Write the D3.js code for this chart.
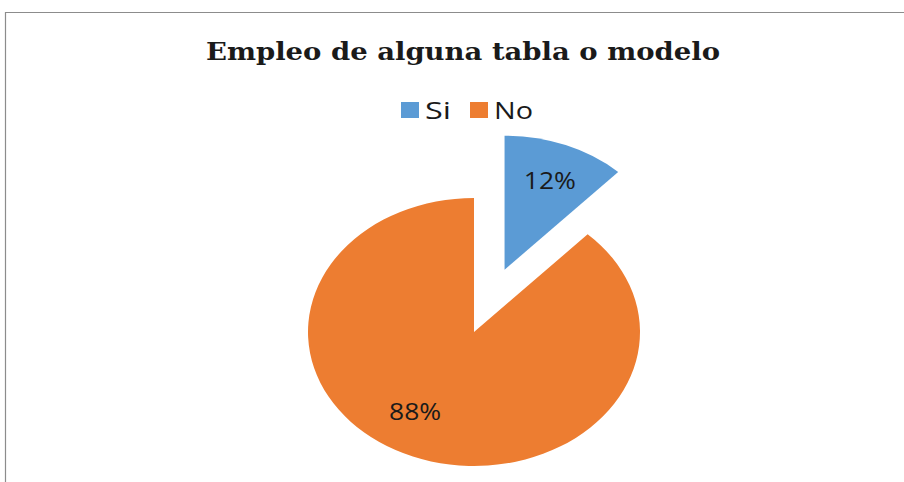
<!DOCTYPE html>
<html>
<head>
<meta charset="utf-8">
<script src="https://cdn.jsdelivr.net/npm/d3@7"></script>
<style>
  body { margin: 0; background: #fff; }
</style>
</head>
<body>
<div class="chart"></div>
<script>
var width = 904
var height = 482

var title = 'Empleo de alguna tabla o modelo'
var categories = ['Si', 'No']
var values = [12, 88]
var colors = ['#5B9BD5', '#ED7D31']

// pie is drawn in a squashed frame, like the original
var ry = 134
var rx = 166
var cx = 474
var cy = 332
var explode = 0.5

var svg = d3.select('.chart').append('svg')
    .attr('width', width)
    .attr('height', height)

svg.append('rect')
    .attr('width', width)
    .attr('height', height)
    .attr('fill', '#fff')

// frame
svg.append('path')
    .attr('d', 'M5.5,' + height + ' V12.5 H' + width)
    .attr('fill', 'none')
    .attr('stroke', '#8c8c8c')
    .attr('stroke-width', 1.2)

svg.append('text')
    .attr('x', 463)
    .attr('y', 60)
    .attr('text-anchor', 'middle')
    .attr('textLength', 514)
    .attr('lengthAdjust', 'spacingAndGlyphs')
    .style('font-family', 'DejaVu Serif, serif')
    .style('font-weight', 'bold')
    .style('font-size', '24px')
    .attr('fill', '#1a1a1a')
    .text(title)

// legend
var legend = svg.append('g')
var legendX = [401, 470]
categories.forEach(function (c, i) {
    legend.append('rect')
        .attr('x', legendX[i])
        .attr('y', 102)
        .attr('width', 18)
        .attr('height', 16)
        .attr('fill', colors[i])
    legend.append('text')
        .attr('x', legendX[i] + 24)
        .attr('y', 119)
        .attr('textLength', c == 'Si' ? 26 : 39)
        .attr('lengthAdjust', 'spacingAndGlyphs')
        .style('font-family', 'Open Sans, Liberation Sans, sans-serif')
        .style('font-size', '23px')
        .attr('fill', '#1a1a1a')
        .text(c)
})

var pie = d3.pie().sort(null).value(d => d)
var arcs = pie(values)
var arc = d3.arc().innerRadius(0).outerRadius(ry)
var labelArc = d3.arc().innerRadius(ry * 0.7).outerRadius(ry * 0.7)

var g = svg.append('g')
    .attr('transform', 'translate(' + cx + ',' + cy + ') scale(' + (rx / ry) + ',1)')

function offset(d) {
    if (d.index != 0) return [0, 0]
    var a = (d.startAngle + d.endAngle) / 2
    return [Math.sin(a) * ry * explode, -Math.cos(a) * ry * explode]
}

var slices = g.selectAll('g.slice').data(arcs)
    .enter()
    .append('g')
    .attr('class', 'slice')
    .attr('transform', d => 'translate(' + offset(d) + ')')

slices.append('path')
    .attr('d', arc)
    .attr('fill', (d, i) => colors[i])

slices.append('text')
    .attr('transform', d => {
        var p = labelArc.centroid(d)
        if (d.index == 1) { p[0] -= 13; p[1] -= 8 }
        else { p[0] += 2; p[1] -= 2 }
        return 'translate(' + p + ') scale(' + (1.15 * ry / rx) + ',1)'
    })
    .attr('text-anchor', 'middle')
    .attr('dominant-baseline', 'central')
    .style('font-family', 'Open Sans, Liberation Sans, sans-serif')
    .style('font-size', '23px')
    .attr('fill', '#1a1a1a')
    .text(d => d.data + '%')
</script>
</body>
</html>
